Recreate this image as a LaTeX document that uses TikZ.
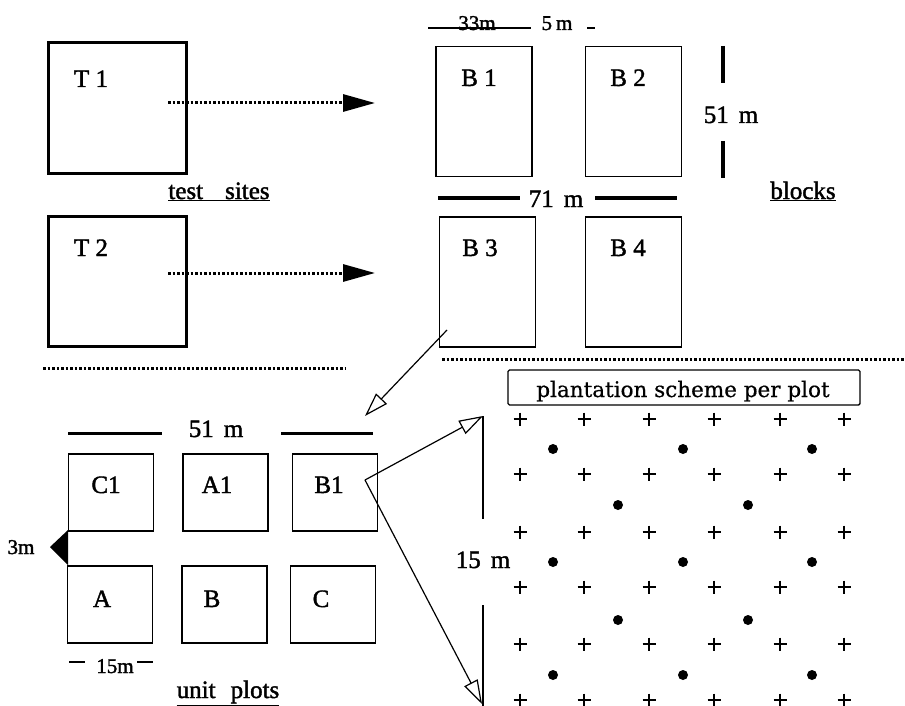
\documentclass[tikz,border=0pt]{standalone}
\usepackage{fontspec}
\setmainfont{Liberation Serif}
\newfontfamily\labelfont[FakeBold=1.6]{Liberation Serif}
\newfontfamily\schemefont[FakeBold=0.6]{DejaVu Serif}
\usetikzlibrary{arrows.meta}
\begin{document}
\begin{tikzpicture}[x=1pt,y=-1pt,
  site/.style={draw, line width=3pt, minimum width=138pt, minimum height=130pt, inner sep=0pt},
  blockbox/.style={draw, line width=1.4pt, minimum width=96pt, minimum height=130pt, inner sep=0pt},
  plotbox/.style={draw, line width=1.4pt, minimum width=85pt, minimum height=77pt, inner sep=0pt},
  lbl/.style={font=\labelfont\fontsize{25}{25}\selectfont, inner sep=0pt, anchor=base},
  small/.style={font=\labelfont\fontsize{21}{21}\selectfont, inner sep=0pt, anchor=base},
  dotarrow/.style={line width=3pt, dash pattern=on 2.5pt off 2pt, -{Triangle[length=32pt,width=17pt]}},
  dotsep/.style={line width=3pt, dash pattern=on 2.5pt off 2pt},
  openarrow/.style={line width=1.2pt, -{Triangle[open,length=24pt,width=15pt]}},
  dimbar/.style={line width=4pt},
  dimmid/.style={line width=3pt},
  dimthin/.style={line width=1.5pt},
  plus/.style={line width=1.2pt},
]
\useasboundingbox (0,0) rectangle (905,706);
% test sites
\node[site] (T1) at (117,108) {};
\node[site] (T2) at (117,281) {};
\node[lbl] (T1l) at (91,87) {T 1};
\node[lbl] (T2l) at (91,256) {T 2};
\node[lbl] (tsl) at (219,199) {\underline{test\hspace{22pt}sites}};
% blocks
\node[blockbox] (B1) at (484,111.5) {};
\node[blockbox] (B2) at (633.5,111.5) {};
\node[blockbox] (B3) at (487.5,282) {};
\node[blockbox] (B4) at (633.5,282) {};
\node[lbl] (B1l) at (479,86) {B 1};
\node[lbl] (B2l) at (628,86) {B 2};
\node[lbl] (B3l) at (480,256) {B 3};
\node[lbl] (B4l) at (628,256) {B 4};
\node[lbl] (blk) at (803,199) {\underline{blocks}};
% block dimensions
\draw[dimthin] (428,28) -- (531,28);
\node[small] (d33) at (477,30) {33m};
\node[small] (d5) at (557,30) {5\hspace{4pt}m};
\draw[dimthin] (587,28) -- (595,28);
\draw[dimbar] (723,46) -- (723,83);
\draw[dimbar] (723,141) -- (723,178);
\node[lbl] (d51b) at (731,123) {51\hspace{10pt}m};
\draw[dimbar] (438,198) -- (520,198);
\draw[dimbar] (595,198) -- (677,198);
\node[lbl] (d71) at (556,207) {71\hspace{10pt}m};
% dotted arrows
\coordinate (t1s) at (168,103);
\coordinate (t1e) at (375,103);
\coordinate (t2s) at (168,273);
\coordinate (t2e) at (375,273);
\draw[dotarrow] (t1s) -- (t1e);
\draw[dotarrow] (t2s) -- (t2e);
% separators
\draw[dotsep] (43,368) -- (346,368);
\draw[dotsep] (442,359) -- (905,359);
% unit plots
\node[plotbox] (C1) at (111,492.5) {};
\node[plotbox] (A1) at (225.5,492.5) {};
\node[plotbox] (PB1) at (335,492.5) {};
\node[plotbox] (PA) at (110,604.5) {};
\node[plotbox] (PB) at (224.5,604.5) {};
\node[plotbox] (PC) at (333,604.5) {};
\node[lbl] (C1l) at (106,493) {C1};
\node[lbl] (A1l) at (217,493) {A1};
\node[lbl] (PB1l) at (329,493) {B1};
\node[lbl] (PAl) at (102,607) {A};
\node[lbl] (PBl) at (212,607) {B};
\node[lbl] (PCl) at (321,607) {C};
\draw[dimmid] (68,433) -- (162,433);
\draw[dimmid] (281,433) -- (373,433);
\node[lbl] (d51p) at (216,437) {51\hspace{10pt}m};
\fill (68,530) -- (68,565) -- (50,547) -- cycle;
\node[small] (d3) at (21,554) {3m};
\draw[dimthin] (69,662) -- (85,662);
\draw[dimthin] (137,662) -- (153,662);
\node[small] (d15) at (115,673) {15m};
\node[lbl] (upl) at (228,698) {\underline{unit\hspace{15pt}plots}};
% open arrows
\coordinate (b3s) at (447,330);
\coordinate (plotsin) at (365,416);
\draw[openarrow] (b3s) -- (plotsin);
\coordinate (b1s) at (365,480);
\coordinate (schtop) at (483,416);
\coordinate (schbot) at (482,704);
\draw[openarrow] (b1s) -- (schtop);
\draw[openarrow] (b1s) -- (schbot);
% plantation scheme
\node[draw, line width=1.4pt, rounded corners=1.5pt, minimum width=352pt, minimum height=35pt, inner sep=0pt] (schbox) at (684,387.5) {};
\node[font=\schemefont\fontsize{21.5}{21.5}\selectfont, inner sep=0pt, anchor=base] (schtxt) at (683,397) {plantation scheme per plot};
\draw[dimthin] (483,416) -- (483,519);
\draw[dimthin] (483,605) -- (483,706);
\node[lbl] (d15m) at (483,568) {15\hspace{10pt}m};
\foreach \x in {520,584,649,714,780,844}
  \foreach \y in {419,474,532,587,644,700}
    \draw[plus] (\x-6.5,\y) -- (\x+6.5,\y) (\x,\y-6.5) -- (\x,\y+6.5);
\foreach \y in {449,562,675}
  \foreach \x in {553,683,812}
    \fill (\x,\y) circle[radius=5];
\foreach \y in {505,620}
  \foreach \x in {618,748}
    \fill (\x,\y) circle[radius=5];
\end{tikzpicture}
\end{document}
